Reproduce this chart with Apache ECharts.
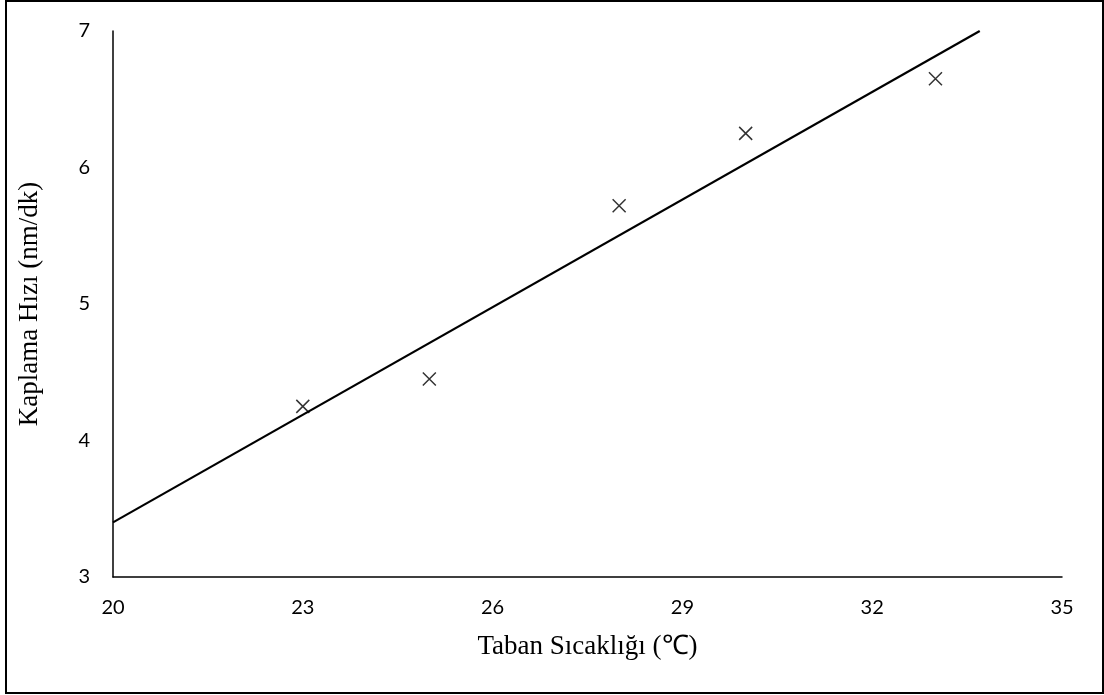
<!DOCTYPE html>
<html><head><meta charset="utf-8">
<script src="https://cdn.jsdelivr.net/npm/echarts@6/dist/echarts.min.js"></script>
<style>html,body{margin:0;padding:0;background:#fff}
#frame{position:absolute;left:5px;top:0px;width:1095px;height:690px;border:2px solid #000;}
#c{position:absolute;left:0;top:0;width:1104px;height:695px}</style>
</head><body>
<div id="frame"></div>
<div id="c"></div>
<script>
const temps = [23, 25, 28, 30, 33];
const rates = [4.25, 4.45, 5.72, 6.25, 6.65];
const trendX = [20, 33.7];
const trendY = [3.40, 7.0];
const xTicks = [20, 23, 26, 29, 32, 35];
const yTicks = [3, 4, 5, 6, 7];

const chart = echarts.init(document.getElementById('c'), null, {renderer:'canvas'});
const tickFont = {fontFamily:'Lato, "Open Sans", sans-serif', fontSize:20, color:'#000'};
const titleFont = {fontFamily:'"Liberation Serif", serif', fontSize:27, color:'#000'};
chart.setOption({
  animation:false,
  grid:{left:113, right:42, top:31, bottom:118, containLabel:false, outerBoundsMode:'none'},
  xAxis:{type:'value', min:20, max:35, interval:3,
    name:'Taban Sıcaklığı (℃)', nameLocation:'middle', nameGap:56,
    nameTextStyle:titleFont,
    axisLine:{show:true, onZero:false, lineStyle:{color:'#000', width:1.5}},
    axisTick:{show:false}, splitLine:{show:false},
    axisLabel:Object.assign({margin:21, formatter:v=>xTicks.includes(v)?String(v):''}, tickFont)},
  yAxis:{type:'value', min:3, max:7, interval:1,
    name:'Kaplama Hızı (nm/dk)', nameLocation:'middle', nameGap:70, nameRotate:90,
    nameTextStyle:titleFont,
    axisLine:{show:true, onZero:false, lineStyle:{color:'#000', width:1.5}},
    axisTick:{show:false}, splitLine:{show:false},
    axisLabel:Object.assign({margin:23, formatter:v=>yTicks.includes(v)?String(v):''}, tickFont)},
  series:[
    {type:'line', data:trendX.map((x,i)=>[x,trendY[i]]), showSymbol:false, symbol:'none',
     lineStyle:{color:'#000', width:2.2}, clip:true, z:2},
    {type:'scatter', data:temps.map((x,i)=>[x,rates[i]]),
     symbol:'path://M0,0L10,10M10,0L0,10', symbolSize:13,
     itemStyle:{color:'none', borderColor:'#000', borderWidth:1.5}, z:3}
  ]
});
</script>
</body></html>
